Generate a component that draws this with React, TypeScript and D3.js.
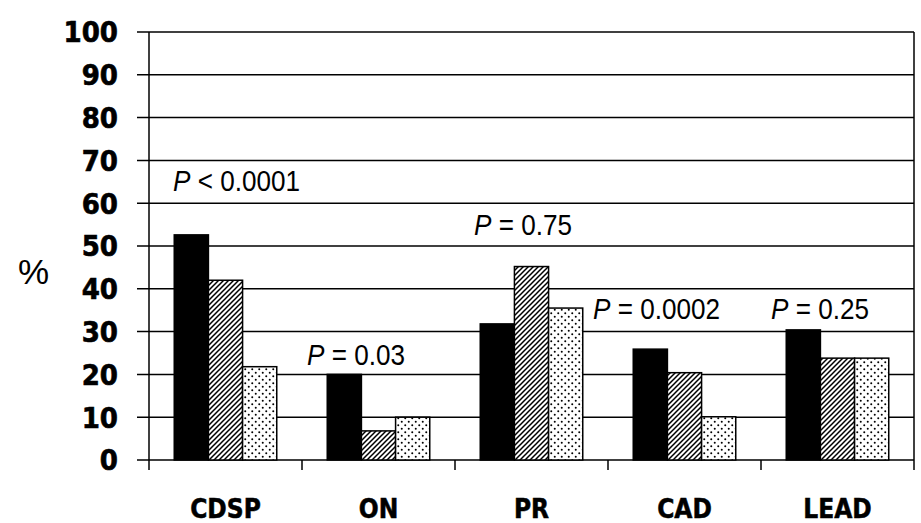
import React, { useEffect, useRef } from 'react';
import * as d3 from 'd3';

const categories = ['CDSP', 'ON', 'PR', 'CAD', 'LEAD'];
const seriesKeys = ['solid', 'hatched', 'dotted'];
const solidValues = [52.6, 20, 31.8, 25.9, 30.4];
const hatchedValues = [42, 6.8, 45.2, 20.4, 23.8];
const dottedValues = [21.8, 10, 35.5, 10.1, 23.8];
const yTicks = [0, 10, 20, 30, 40, 50, 60, 70, 80, 90, 100];
const pOperators = ['<', '=', '=', '=', '='];
const pValues = ['0.0001', '0.03', '0.75', '0.0002', '0.25'];

// where each P label sits: px offset from category start, and level in %
const pLabelDx = [24, 5, 19, -15, 10];
const pLabelLevel = [62.9, 22.2, 52.6, 33.0, 33.0];

const W = 921;
const H = 523;

const App = () => {
  const ref = useRef<SVGSVGElement>(null);

  useEffect(() => {
    const svg = d3.select(ref.current);
    svg.selectAll('*').remove();

    const left = 149;
    const right = 914;
    const top = 32;
    const bottom = 460;

    const x = d3.scaleBand().domain(categories).range([left, right]).padding(0);
    const y = d3.scaleLinear().domain([0, 100]).range([bottom, top]);
    const bw = x.bandwidth();
    const xs = d3.scaleBand().domain(seriesKeys).range([bw * 0.165, bw * 0.835]).padding(0);

    const defs = svg.append('defs');
    const hatch = defs.append('pattern')
      .attr('id', 'hatch')
      .attr('patternUnits', 'userSpaceOnUse')
      .attr('width', 5)
      .attr('height', 5);
    hatch.append('rect').attr('width', 5).attr('height', 5).attr('fill', 'white');
    hatch.append('path')
      .attr('d', 'M-1,6 L6,-1 M-1,1 L1,-1 M4,6 L6,4')
      .attr('stroke', 'black')
      .attr('stroke-width', 1.5);

    const dots = defs.append('pattern')
      .attr('id', 'dots')
      .attr('patternUnits', 'userSpaceOnUse')
      .attr('width', 7)
      .attr('height', 7);
    dots.append('rect').attr('width', 7).attr('height', 7).attr('fill', 'white');
    dots.append('circle').attr('cx', 1.75).attr('cy', 1.75).attr('r', 1).attr('fill', 'black');
    dots.append('circle').attr('cx', 5.25).attr('cy', 5.25).attr('r', 1).attr('fill', 'black');

    // gridlines + outer ticks on the left
    svg.append('g')
      .selectAll('line')
      .data(yTicks)
      .enter().append('line')
      .attr('x1', left - 12)
      .attr('x2', right)
      .attr('y1', d => y(d))
      .attr('y2', d => y(d))
      .attr('stroke', 'black')
      .attr('stroke-width', 1.5);

    // left and right frame
    svg.append('line')
      .attr('x1', left).attr('x2', left)
      .attr('y1', top).attr('y2', bottom + 10)
      .attr('stroke', 'black').attr('stroke-width', 1.5);
    svg.append('line')
      .attr('x1', right).attr('x2', right)
      .attr('y1', top).attr('y2', bottom + 10)
      .attr('stroke', 'black').attr('stroke-width', 1.5);

    // x category ticks
    svg.append('g')
      .selectAll('line')
      .data(categories.slice(1))
      .enter().append('line')
      .attr('x1', d => x(d))
      .attr('x2', d => x(d))
      .attr('y1', bottom)
      .attr('y2', bottom + 10)
      .attr('stroke', 'black')
      .attr('stroke-width', 1.5);

    const rows = categories.map((c, i) => ({
      cat: c,
      values: [
        { key: 'solid', v: solidValues[i], fill: 'black' },
        { key: 'hatched', v: hatchedValues[i], fill: 'url(#hatch)' },
        { key: 'dotted', v: dottedValues[i], fill: 'url(#dots)' },
      ],
    }));

    const groups = svg.append('g')
      .selectAll('g')
      .data(rows)
      .enter().append('g')
      .attr('transform', d => `translate(${x(d.cat)},0)`);

    groups.selectAll('rect')
      .data(d => d.values)
      .enter().append('rect')
      .attr('x', d => xs(d.key))
      .attr('width', xs.bandwidth())
      .attr('y', d => y(d.v))
      .attr('height', d => bottom - y(d.v))
      .attr('fill', d => d.fill)
      .attr('stroke', 'black')
      .attr('stroke-width', 1.5);

    // y tick labels
    svg.append('g')
      .selectAll('text')
      .data(yTicks)
      .enter().append('text')
      .attr('x', 118)
      .attr('y', d => y(d))
      .attr('dy', '0.36em')
      .attr('text-anchor', 'end')
      .style('font-family', '"DejaVu Sans Condensed", "DejaVu Sans", sans-serif')
      .style('font-stretch', 'condensed')
      .style('font-weight', 'bold')
      .style('font-size', '29px')
      .style('stroke', 'black')
      .style('stroke-width', 0.6)
      .text(d => d);

    // category labels
    svg.append('g')
      .selectAll('text')
      .data(categories)
      .enter().append('text')
      .attr('x', d => x(d) + bw / 2)
      .attr('y', 518)
      .attr('text-anchor', 'middle')
      .style('font-family', '"DejaVu Sans Condensed", "DejaVu Sans", sans-serif')
      .style('font-stretch', 'condensed')
      .style('font-weight', 'bold')
      .style('font-size', '26px')
      .style('stroke', 'black')
      .style('stroke-width', 0.5)
      .text(d => d);

    svg.append('text')
      .attr('x', 18)
      .attr('y', 284)
      .style('font-family', '"Liberation Sans", Arial, sans-serif')
      .style('font-size', '35px')
      .text('%');

    // P value annotations (slightly narrow, like the original)
    const ann = svg.append('g')
      .selectAll('text')
      .data(categories)
      .enter().append('text')
      .attr('transform', (d, i) => `translate(${x(d) + pLabelDx[i]},${y(pLabelLevel[i])}) scale(0.9,1)`)
      .style('font-family', '"Liberation Sans", Arial, sans-serif')
      .style('font-size', '29px');
    ann.append('tspan').style('font-style', 'italic').text('P');
    ann.append('tspan').text((d, i) => ` ${pOperators[i]} ${pValues[i]}`);
  }, []);

  return (
    <svg
      ref={ref}
      width={W}
      height={H}
      style={{ position: 'absolute', left: 0, top: 0, background: 'white' }}
    />
  );
};

export default App;
